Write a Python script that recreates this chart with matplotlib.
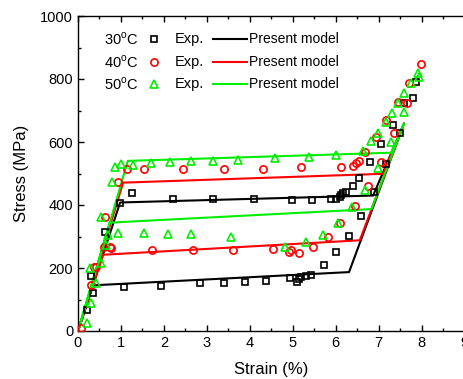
import matplotlib.pyplot as plt
from matplotlib.ticker import MultipleLocator

plt.rcParams['font.family'] = ['Liberation Sans', 'DejaVu Sans']
plt.rcParams['mathtext.fontset'] = 'custom'
plt.rcParams['mathtext.rm'] = 'Liberation Sans'

# experimental points, strain (%) / stress (MPa)
exp30_strain = [0.21, 0.35, 0.31, 0.64, 0.97, 1.26, 2.20, 3.14, 4.10, 4.98, 5.45, 5.90,
                6.01, 6.09, 6.13, 6.17, 6.25, 6.40, 6.54, 6.79, 6.90, 7.06, 7.18, 7.33,
                7.49, 7.60, 7.81, 7.87,
                6.59, 6.31, 6.01, 5.72, 5.43, 5.30, 5.20, 5.14, 5.10, 4.94, 4.38, 3.88,
                3.40, 2.83, 1.93, 1.06]
exp30_stress = [67, 120, 175, 315, 405, 437, 419, 419, 419, 416, 416, 419,
                419, 424, 432, 437, 442, 461, 487, 535, 442, 594, 529, 654,
                627, 723, 741, 792,
                366, 303, 250, 210, 178, 176, 172, 164, 157, 167, 159, 157,
                151, 151, 144, 141]

exp40_strain = [0.08, 0.31, 0.43, 0.37, 0.61, 0.74, 0.62, 0.93, 1.15, 1.53, 2.44, 3.39,
                4.31, 5.20, 6.13, 6.40, 6.48, 6.54, 6.67, 6.94, 7.18, 7.45, 7.71, 7.98,
                7.66, 7.35, 7.06, 6.75, 6.44, 6.11, 5.82, 5.48, 5.14, 4.95, 4.91, 4.54,
                3.61, 2.68, 1.73, 0.76]
exp40_stress = [8, 146, 204, 204, 268, 266, 361, 474, 513, 513, 513, 513,
                513, 522, 522, 525, 532, 540, 569, 617, 670, 728, 788, 847,
                725, 628, 538, 460, 397, 342, 299, 268, 249, 257, 250, 259,
                257, 257, 257, 262]

exp50_strain = [0.21, 0.31, 0.41, 0.54, 0.29, 0.66, 0.70, 0.54, 0.78, 0.85, 1.01, 1.28,
                1.71, 2.15, 2.64, 3.14, 3.72, 4.58, 5.38, 6.01, 6.63, 6.83, 6.98, 7.18,
                7.32, 7.46, 7.60, 7.76, 7.91, 7.94,
                7.60, 7.29, 6.98, 6.67, 6.38, 6.05, 5.70, 5.31, 4.83, 3.57, 2.62, 2.09,
                1.54, 0.93]
exp50_stress = [26, 90, 153, 215, 199, 273, 304, 361, 474, 522, 529, 527,
                534, 538, 540, 540, 543, 548, 553, 559, 572, 604, 630, 662,
                693, 723, 754, 788, 820, 805,
                694, 601, 516, 448, 393, 342, 305, 284, 268, 299, 307, 307,
                310, 312]

# model hysteresis loops
model30_strain = [0, 0.98, 6.87, 7.59, 6.31, 0.35, 0]
model30_stress = [0, 408, 430, 659, 187, 145, 0]
model40_strain = [0, 1.05, 7.10, 7.59, 6.56, 0.58, 0]
model40_stress = [0, 471, 499, 659, 288, 242, 0]
model50_strain = [0, 1.16, 7.29, 7.59, 6.83, 0.74, 0]
model50_stress = [0, 540, 566, 659, 387, 344, 0]

temps = ['30$^\\mathregular{o}$C', '40$^\\mathregular{o}$C', '50$^\\mathregular{o}$C']
colors = ['black', 'red', '#00ee00']
markers = ['s', 'o', '^']
msizes = [4.6, 5.2, 6.2]

fig = plt.figure(figsize=(4.63, 3.79), dpi=100)
ax = fig.add_axes([78 / 463, 48 / 379, 386.6 / 463, 315 / 379])

series = [(exp30_strain, exp30_stress, model30_strain, model30_stress),
          (exp40_strain, exp40_stress, model40_strain, model40_stress),
          (exp50_strain, exp50_stress, model50_strain, model50_stress)]

for (xs, ys, mx, my), c in zip(series, colors):
    ax.plot(mx, my, color=c, lw=1.5, zorder=2)
for (xs, ys, mx, my), c, m, ms in zip(series, colors, markers, msizes):
    ax.plot(xs, ys, ls='none', marker=m, ms=ms, mfc='none', mec=c, mew=1.2, zorder=3)

# key in the upper left
rows_y = [0.927, 0.854, 0.784]
for t, c, m, ms, y in zip(temps, colors, markers, msizes, rows_y):
    ax.text(0.068, y, t, transform=ax.transAxes, fontsize=10.5, va='center', ha='left')
    ax.plot([0.197], [y], transform=ax.transAxes, ls='none', marker=m, ms=ms,
            mfc='none', mec=c, mew=1.2)
    ax.text(0.251, y, 'Exp.', transform=ax.transAxes, fontsize=10.5, va='center', ha='left')
    ax.plot([0.349, 0.437], [y, y], transform=ax.transAxes, color=c, lw=1.5)
    ax.text(0.443, y, 'Present model', transform=ax.transAxes, fontsize=10,
            va='center', ha='left')

ax.set_xlim(0, 9)
ax.set_ylim(0, 1000)
ax.xaxis.set_major_locator(MultipleLocator(1))
ax.xaxis.set_minor_locator(MultipleLocator(0.5))
ax.yaxis.set_major_locator(MultipleLocator(200))
ax.yaxis.set_minor_locator(MultipleLocator(100))
ax.tick_params(which='both', direction='in', top=True, right=False, labelsize=10.5)
ax.tick_params(which='major', length=4, width=1)
ax.tick_params(which='minor', length=2.5, width=1)
for s in ax.spines.values():
    s.set_linewidth(1)
ax.spines['right'].set_visible(False)

ax.set_xlabel('Strain (%)', fontsize=12, labelpad=9)
ax.set_ylabel('Stress (MPa)', fontsize=12, labelpad=8)

fig.savefig('out.png', dpi=100)
